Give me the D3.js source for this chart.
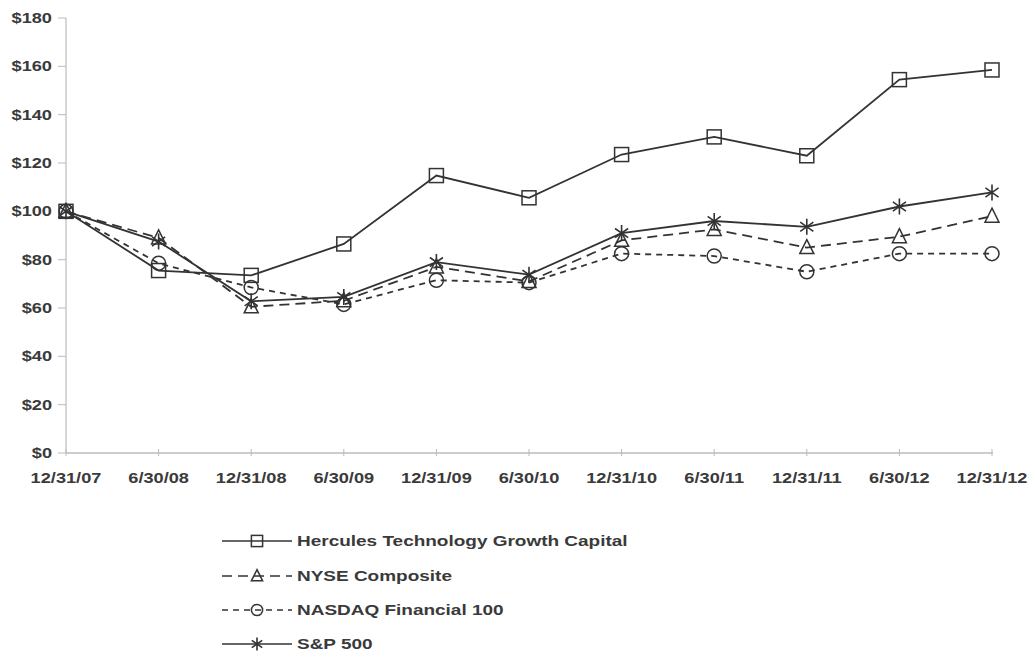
<!DOCTYPE html>
<html>
<head>
<meta charset="utf-8">
<script src="https://cdn.jsdelivr.net/npm/d3@7/dist/d3.min.js"></script>
<style>
  html, body { margin: 0; padding: 0; background: #fff; }
  svg { display: block; }
  text { font-family: "Liberation Sans", Arial, sans-serif; font-weight: bold; fill: #3a3a3a; }
</style>
</head>
<body>
<svg id="chart" width="1035" height="658"></svg>
<script>
const categories = ["12/31/07","6/30/08","12/31/08","6/30/09","12/31/09","6/30/10","12/31/10","6/30/11","12/31/11","6/30/12","12/31/12"];
const yTicks = [0,20,40,60,80,100,120,140,160,180];
const hercules = [100, 75.5, 73.5, 86.5, 114.8, 105.6, 123.5, 130.8, 123, 154.5, 158.5];
const nyse     = [100, 89, 60.5, 63, 77, 71, 88, 92.5, 85, 89.5, 98];
const nasdaq   = [100, 78.5, 68.5, 61.5, 71.5, 70.5, 82.5, 81.5, 75, 82.5, 82.5];
const sp500    = [100, 87.5, 62.8, 64.6, 79, 73.8, 91, 96, 93.6, 102, 107.8];
const seriesNames = ["Hercules Technology Growth Capital","NYSE Composite","NASDAQ Financial 100","S&P 500"];

const series = [
  {name: seriesNames[0], values: hercules, dash: null, marker: "square"},
  {name: seriesNames[1], values: nyse, dash: "10,6", marker: "triangle"},
  {name: seriesNames[2], values: nasdaq, dash: "6,5", marker: "circle"},
  {name: seriesNames[3], values: sp500, dash: null, marker: "asterisk"}
];

const svg = d3.select("#chart");
const X0 = 66, X1 = 992, Y0 = 453, Y1 = 18;
const x = d3.scalePoint().domain(categories).range([X0, X1]);
const y = d3.scaleLinear().domain([0, 180]).range([Y0, Y1]);
const ink = "#333";
const SX = 1.3;

// y axis
svg.append("line").attr("x1", X0).attr("x2", X0).attr("y1", y(180)).attr("y2", y(0))
  .attr("stroke", "#bbb").attr("stroke-width", 1.2);
yTicks.forEach(t => {
  svg.append("line").attr("x1", X0 - 8).attr("x2", X0).attr("y1", y(t)).attr("y2", y(t))
    .attr("stroke", "#bbb").attr("stroke-width", 1);
  svg.append("text").attr("transform", `translate(${52},${y(t) + 5}) scale(${SX},1)`)
    .attr("text-anchor", "end").attr("font-size", 14).text("$" + t);
});
// x axis
svg.append("line").attr("x1", X0).attr("x2", X1 + 1).attr("y1", Y0).attr("y2", Y0)
  .attr("stroke", "#999").attr("stroke-width", 1.2);
categories.forEach(c => {
  svg.append("line").attr("x1", x(c)).attr("x2", x(c)).attr("y1", Y0 - 4).attr("y2", Y0 + 3)
    .attr("stroke", "#bbb").attr("stroke-width", 1);
  svg.append("text").attr("transform", `translate(${x(c)},${483}) scale(${SX},1)`)
    .attr("text-anchor", "middle").attr("font-size", 14).text(c);
});

function drawMarker(g, type, cx, cy, k) {
  k = k || 1;
  const h = 7 * k;
  if (type === "square") {
    g.append("rect").attr("x", cx - h).attr("y", cy - h).attr("width", 2 * h).attr("height", 2 * h)
      .attr("fill", "none").attr("stroke", ink).attr("stroke-width", 1.5);
  } else if (type === "circle") {
    g.append("circle").attr("cx", cx).attr("cy", cy).attr("r", h)
      .attr("fill", "none").attr("stroke", ink).attr("stroke-width", 1.5);
  } else if (type === "triangle") {
    g.append("path").attr("d", `M${cx},${cy - 8 * k}L${cx + h},${cy + 6 * k}L${cx - h},${cy + 6 * k}Z`)
      .attr("fill", "none").attr("stroke", ink).attr("stroke-width", 1.5);
  } else if (type === "asterisk") {
    const r = 8 * k;
    const p = d3.path();
    [90, 35, 145].forEach(a => {
      const rad = a * Math.PI / 180;
      p.moveTo(cx - r * Math.cos(rad), cy - r * Math.sin(rad));
      p.lineTo(cx + r * Math.cos(rad), cy + r * Math.sin(rad));
    });
    g.append("path").attr("d", p.toString()).attr("fill", "none").attr("stroke", ink).attr("stroke-width", 1.6);
  }
}

const line = d3.line().x((d, i) => x(categories[i])).y(d => y(d));
series.slice().reverse().forEach(s => {
  const g = svg.append("g");
  g.append("path").attr("d", line(s.values)).attr("fill", "none").attr("stroke", ink)
    .attr("stroke-width", 1.8).attr("stroke-dasharray", s.dash);
  s.values.forEach((v, i) => drawMarker(g, s.marker, x(categories[i]), y(v)));
});

// legend
const legY = [541, 576, 610, 644];
series.forEach((s, i) => {
  const g = svg.append("g");
  const ly = legY[i];
  g.append("line").attr("x1", 222).attr("x2", 292).attr("y1", ly).attr("y2", ly)
    .attr("stroke", ink).attr("stroke-width", 1.6).attr("stroke-dasharray", s.dash);
  drawMarker(g, s.marker, 257, ly, 0.8);
  g.append("text").attr("transform", `translate(297,${ly + 5}) scale(1.3,1)`)
    .attr("font-size", 14.6).text(s.name);
});
</script>
</body>
</html>
